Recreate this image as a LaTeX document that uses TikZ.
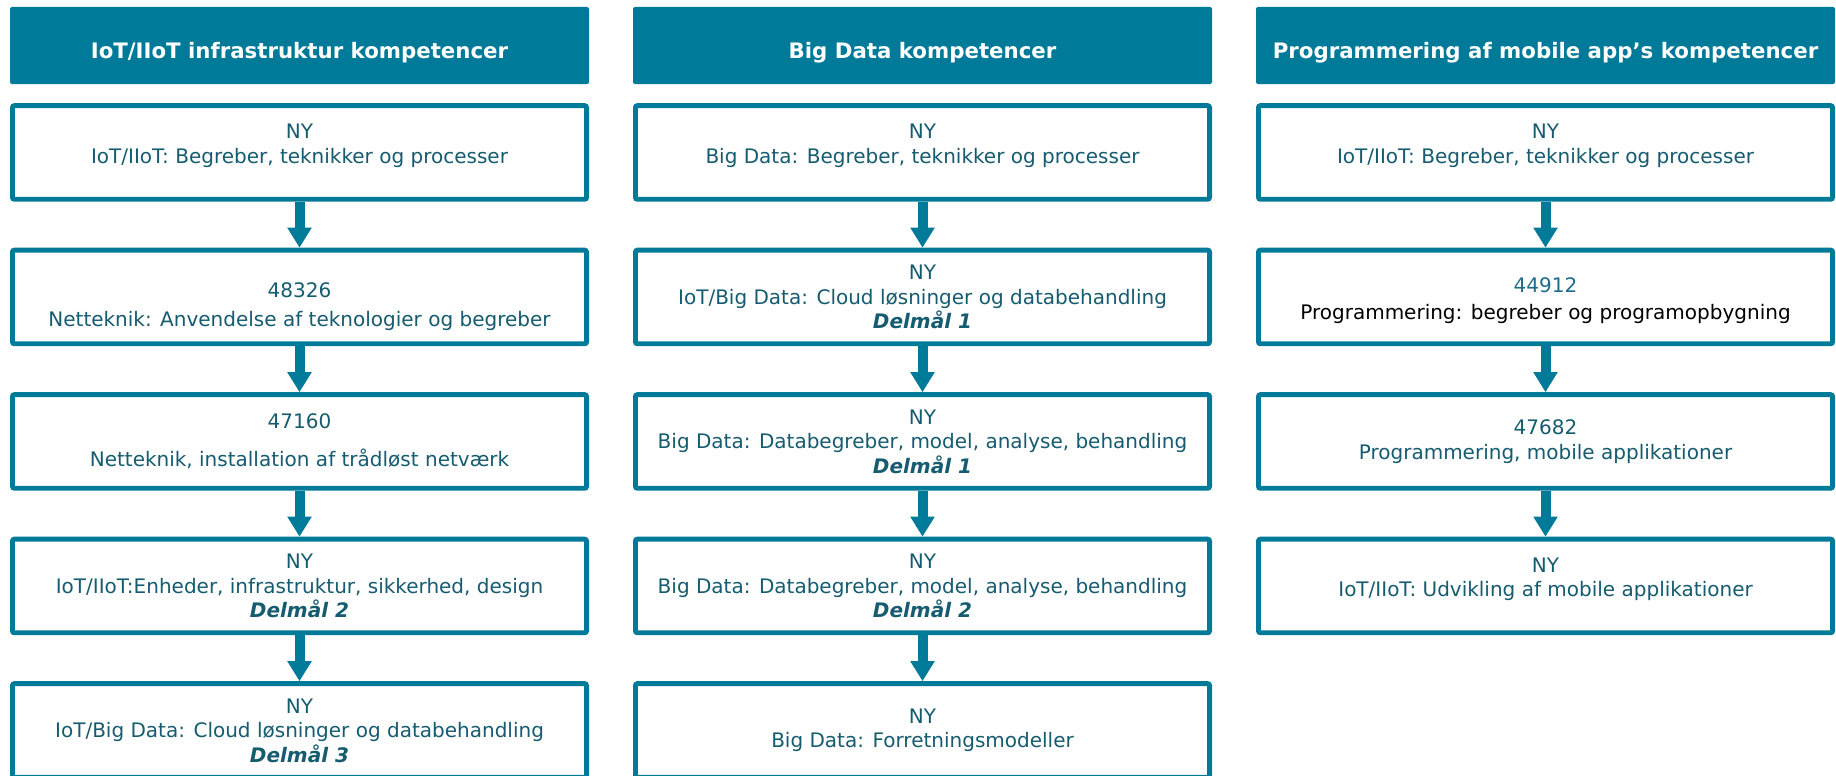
\documentclass[tikz,border=0pt]{standalone}
\usepackage{fontspec}
\setmainfont{DejaVu Sans}
\usetikzlibrary{arrows.meta,positioning}
\definecolor{petrol}{RGB}{0,122,153}
\definecolor{petroltxt}{RGB}{22,92,112}
\definecolor{nrblue}{RGB}{30,108,138}
\newcommand{\delmaal}[1]{\textbf{\textit{Delmål #1}}}
\tikzset{
  head_n/.style = {fill=petrol, rounded corners=2pt, inner sep=0pt,
    minimum width=579pt, minimum height=77pt, text=white,
    font=\fontsize{21.3}{25}\selectfont\bfseries,
    text height=26pt, text depth=0pt},
  box_n/.style = {draw=petrol, line width=4.8pt, fill=white,
    rounded corners=2pt, inner sep=0pt, align=center,
    minimum width=574.2pt, minimum height=93.7pt,
    text=petroltxt, font=\fontsize{20}{24.5}\selectfont},
  pil_e/.style = {draw=petrol, line width=10pt,
    -{Triangle[width=23pt,length=20pt]}}}

\begin{document}
\begin{tikzpicture}[x=1pt, y=-1pt, node distance=46pt]
\useasboundingbox (0,0) rectangle (1836,776);

% IoT/IIoT column
\node [head_n] (h1) at (299.5,45.5) {IoT/IIoT infrastruktur kompetencer};
\node [box_n, below=19pt of h1] (a1)
  {NY\\IoT/IIoT: Begreber, teknikker og processer\\[-7pt]\mbox{}};
\node [box_n, below=of a1] (a2)
  {\mbox{}\\[10.1pt]48326\\[4.9pt]Netteknik: Anvendelse af teknologier og begreber};
\node [box_n, below=of a2] (a3)
  {47160\\[13.2pt]Netteknik, installation af trådløst netværk};
\node [box_n, below=of a3] (a4)
  {NY\\IoT/IIoT:Enheder, infrastruktur, sikkerhed, design\\\delmaal{2}};
\node [box_n, below=of a4] (a5)
  {NY\\IoT/Big Data: Cloud løsninger og databehandling\\\delmaal{3}};

% Big Data column
\node [head_n] (h2) at (922.5,45.5) {Big Data kompetencer};
\node [box_n, below=19pt of h2] (b1)
  {NY\\Big Data: Begreber, teknikker og processer\\[-7pt]\mbox{}};
\node [box_n, below=of b1] (b2)
  {NY\\IoT/Big Data: Cloud løsninger og databehandling\\\delmaal{1}};
\node [box_n, below=of b2] (b3)
  {NY\\Big Data: Databegreber, model, analyse, behandling\\\delmaal{1}};
\node [box_n, below=of b3] (b4)
  {NY\\Big Data: Databegreber, model, analyse, behandling\\\delmaal{2}};
\node [box_n, below=of b4] (b5)
  {NY\\Big Data: Forretningsmodeller};

% mobile app column
\node [head_n] (h3) at (1545.5,45.5) {Programmering af mobile app’s kompetencer};
\node [box_n, below=19pt of h3] (c1)
  {NY\\IoT/IIoT: Begreber, teknikker og processer\\[-7pt]\mbox{}};
\node [box_n, below=of c1] (c2)
  {\mbox{}\\[-1.9pt]\textcolor{nrblue}{44912}\\[2.2pt]\textcolor{black}{Programmering: begreber og programopbygning}};
\node [box_n, below=of c2] (c3)
  {47682\\Programmering, mobile applikationer};
\node [box_n, below=of c3] (c4)
  {NY\\IoT/IIoT: Udvikling af mobile applikationer\\[-7pt]\mbox{}};

\foreach \s/\t in {a1/a2,a2/a3,a3/a4,a4/a5,b1/b2,b2/b3,b3/b4,b4/b5,c1/c2,c2/c3,c3/c4}
  \draw [pil_e] (\s.south) -- (\t.north);
\end{tikzpicture}
\end{document}
